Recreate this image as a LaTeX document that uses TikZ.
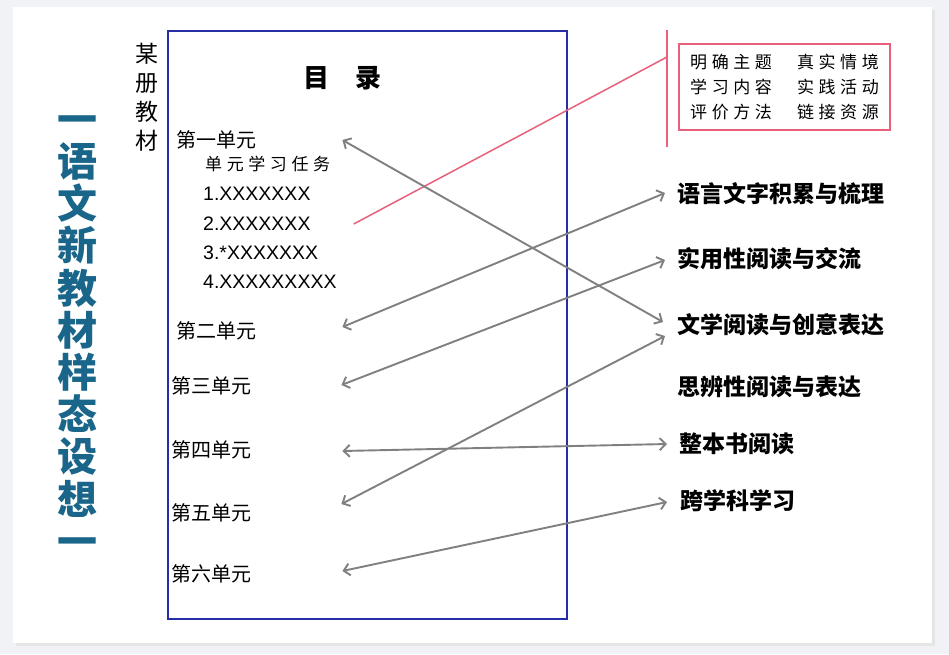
\documentclass[tikz,border=0pt]{standalone}
\usepackage{fontspec}
\setmainfont{Liberation Sans}
\newfontfamily\cjk{Noto Sans CJK SC}
\usetikzlibrary{arrows.meta}
\definecolor{titlecol}{RGB}{26,102,138}
\definecolor{boxblue}{RGB}{38,46,165}
\definecolor{pinkcol}{RGB}{232,96,124}
\definecolor{linkgray}{RGB}{128,128,128}
\definecolor{pagegray}{RGB}{241,242,245}
\newcommand{\chgap}{\hspace{4.6pt}}
\tikzset{
  txt/.style={inner sep=0pt, anchor=west},
  unit/.style={txt, font=\cjk\fontsize{20}{24}\selectfont},
  taskgroup/.style={txt, font=\cjk\bfseries\fontsize{23}{26}\selectfont},
  link/.style={draw=linkgray, line width=1.9pt, {Straight Barb[length=6pt,width=12pt]}-{Straight Barb[length=6pt,width=12pt]}}
}
\begin{document}
\begin{tikzpicture}[x=1pt, y=-1pt]
    % page and panel
    \fill[pagegray] (0,0) rectangle (949,654);
    \fill[black!10] (16,10) rectangle (935,646);
    \fill[white] (13,7) rectangle (932,643);
    \useasboundingbox (0,0) rectangle (949,654);

    % vertical titles
    \node[font=\cjk\bfseries\fontsize{40}{42.2}\selectfont, text=titlecol, align=center, inner sep=0pt]
      (title) at (77,336)
      {一\\语\\文\\新\\教\\材\\样\\态\\设\\想\\一};
    \node[font=\cjk\fontsize{23}{29}\selectfont, align=center, inner sep=0pt]
      (book) at (147,97)
      {某\\册\\教\\材};

    % table of contents
    \draw[boxblue, line width=1.8pt] (168,31) rectangle (567,619);
    \node[font=\cjk\bfseries\fontsize{26}{30}\selectfont] (toc) at (342,78) {目\hspace{26pt}录};

    \node[unit] (u1) at (176,140) {第一单元};
    \node[txt, font=\cjk\fontsize{17}{20}\selectfont] (task) at (205,164)
      {单\chgap 元\chgap 学\chgap 习\chgap 任\chgap 务};
    \foreach \i/\y/\t in {1/194/1.XXXXXXX, 2/224/2.XXXXXXX, 3/253/3.*XXXXXXX, 4/282/4.XXXXXXXXX}
      \node[txt, font=\fontsize{19.5}{22}\selectfont] (item\i) at (203,\y) {\t};
    \node[unit] (u2) at (176,331) {第二单元};
    \node[unit] (u3) at (171,386) {第三单元};
    \node[unit] (u4) at (171,450) {第四单元};
    \node[unit] (u5) at (171,513) {第五单元};
    \node[unit] (u6) at (171,574) {第六单元};

    % task groups
    \node[taskgroup] (d1) at (677,194) {语言文字积累与梳理};
    \node[taskgroup] (d2) at (677,259) {实用性阅读与交流};
    \node[taskgroup] (d3) at (677,325) {文学阅读与创意表达};
    \node[taskgroup] (d4) at (677,387) {思辨性阅读与表达};
    \node[taskgroup] (d5) at (679,444) {整本书阅读};
    \node[taskgroup] (d6) at (680,501) {跨学科学习};

    % design elements
    \node[draw=pinkcol, line width=1.8pt, minimum width=211pt, minimum height=86pt,
          font=\cjk\fontsize{17}{25}\selectfont, align=left, inner sep=0pt]
      (elems) at (784.5,87)
      {明\chgap 确\chgap 主\chgap 题\hspace{25pt}真\chgap 实\chgap 情\chgap 境\\
       学\chgap 习\chgap 内\chgap 容\hspace{25pt}实\chgap 践\chgap 活\chgap 动\\
       评\chgap 价\chgap 方\chgap 法\hspace{25pt}链\chgap 接\chgap 资\chgap 源};
    \coordinate (barTop) at (667,30);
    \coordinate (barBot) at (667,147);
    \coordinate (barHit) at (667,57);
    \draw[pinkcol, line width=1.8pt] (barTop) -- (barBot);
    \draw[pinkcol, line width=1.5pt] ([xshift=43pt]item2.east) -- (barHit);

    % links between units and task groups
    \draw[link] ([xshift=86pt]u1.east) -- ([xshift=-14pt,yshift=3pt]d3.west);
    \draw[link] ([xshift=86pt,yshift=4pt]u2.east) -- ([xshift=-12pt,yshift=1pt]d1.west);
    \draw[link] ([xshift=90pt,yshift=1pt]u3.east) -- ([xshift=-12pt,yshift=-1pt]d2.west);
    \draw[link] ([xshift=91pt,yshift=-1pt]u4.east) -- ([xshift=-12pt]d5.west);
    \draw[link] ([xshift=90pt,yshift=9pt]u5.east) -- ([xshift=-12pt,yshift=-11pt]d3.west);
    \draw[link] ([xshift=91pt,yshift=3pt]u6.east) -- ([xshift=-13pt,yshift=-1pt]d6.west);
  \end{tikzpicture}
\end{document}
